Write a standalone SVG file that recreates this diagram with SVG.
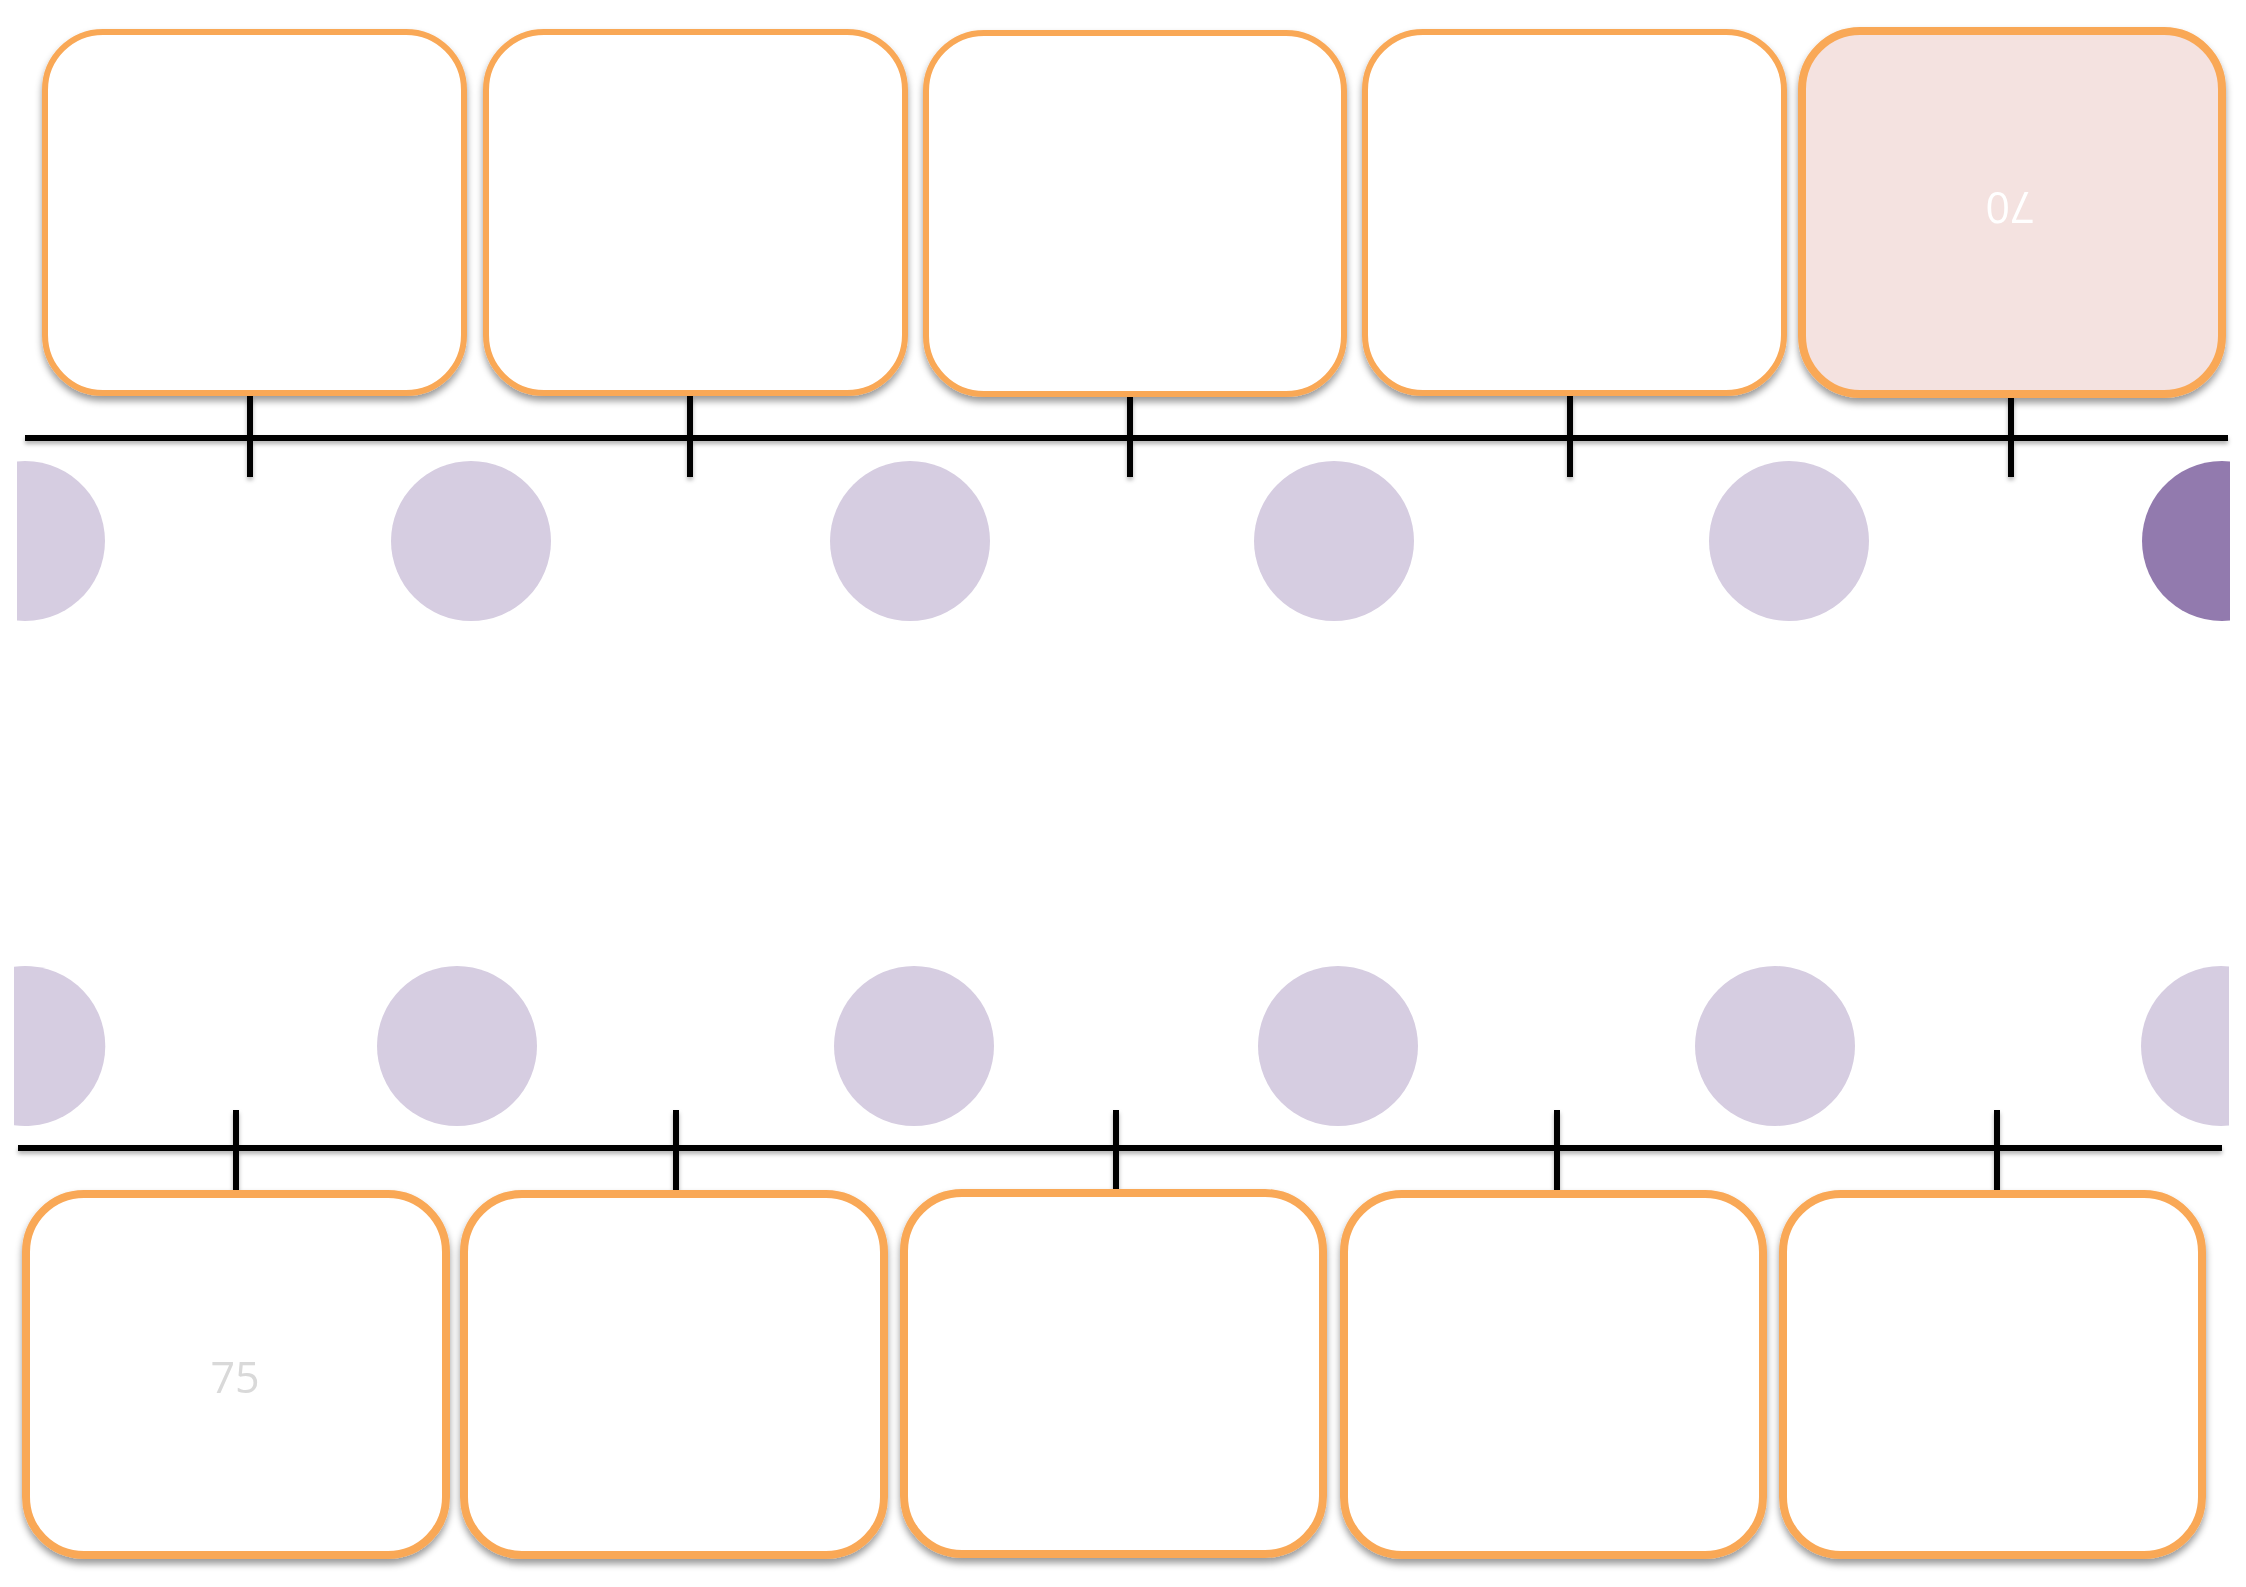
<svg xmlns="http://www.w3.org/2000/svg" width="2246" height="1587" viewBox="0 0 2246 1587">
<defs>
<filter id="sh" x="-10%" y="-10%" width="120%" height="125%">
<feDropShadow dx="0" dy="5" stdDeviation="3.5" flood-color="#000" flood-opacity="0.4"/>
</filter>
<filter id="lsh" x="-5%" y="-200%" width="110%" height="500%">
<feDropShadow dx="0" dy="3" stdDeviation="2" flood-color="#000" flood-opacity="0.3"/>
</filter>
</defs>
<style>
.box{fill:#fff;stroke:#F9A857;stroke-width:6}
.bb{stroke-width:8}
.hl{fill:#F4E2E0;stroke:#F9A857;stroke-width:8}
.dot{fill:#D6CDE1}
.dark{fill:#927AAE}
.ln{stroke:#000;stroke-width:6;fill:none}
.lbl{font-family:"Open Sans","Liberation Sans",sans-serif;font-size:43px;text-anchor:middle}
</style>
<rect width="2246" height="1587" fill="#fff"/>
<g id="connectors" filter="url(#lsh)">
<line class="ln" x1="25" y1="438" x2="2228" y2="438"/>
<line class="ln" x1="250" y1="396" x2="250" y2="477"/>
<line class="ln" x1="690" y1="396" x2="690" y2="477"/>
<line class="ln" x1="1130" y1="396" x2="1130" y2="477"/>
<line class="ln" x1="1570" y1="396" x2="1570" y2="477"/>
<line class="ln" x1="2011" y1="396" x2="2011" y2="477"/>
<line class="ln" x1="18" y1="1148" x2="2222" y2="1148"/>
<line class="ln" x1="236" y1="1110" x2="236" y2="1190"/>
<line class="ln" x1="676" y1="1110" x2="676" y2="1190"/>
<line class="ln" x1="1116" y1="1110" x2="1116" y2="1190"/>
<line class="ln" x1="1557" y1="1110" x2="1557" y2="1190"/>
<line class="ln" x1="1997" y1="1110" x2="1997" y2="1190"/>
</g>
<g id="top-boxes" filter="url(#sh)">
<g id="t1"><rect class="box" x="45" y="32" width="419" height="361" rx="58"/></g>
<g id="t2"><rect class="box" x="486" y="32" width="419" height="361" rx="58"/></g>
<g id="t3"><rect class="box" x="926" y="33" width="418" height="361" rx="58"/></g>
<g id="t4"><rect class="box" x="1365" y="32" width="419" height="361" rx="58"/></g>
<g id="t5"><rect class="hl" x="1802" y="31" width="420" height="363" rx="58"/>
<text class="lbl" fill="#fff" transform="translate(2010,192) rotate(180)">70</text></g>
</g>
<g id="bottom-boxes" filter="url(#sh)">
<g id="b1"><rect class="box bb" x="26" y="1194" width="420" height="361" rx="58"/>
<text class="lbl" fill="#D9D9D9" x="235" y="1393">75</text></g>
<g id="b2"><rect class="box bb" x="464" y="1194" width="420" height="361" rx="58"/></g>
<g id="b3"><rect class="box bb" x="904" y="1193" width="419" height="361" rx="58"/></g>
<g id="b4"><rect class="box bb" x="1344" y="1194" width="419" height="361" rx="58"/></g>
<g id="b5"><rect class="box bb" x="1783" y="1194" width="419" height="361" rx="58"/></g>
</g>
<g id="top-dots">
<path class="dot" d="M17,461.4 A80,80 0 1 1 17,620.6 Z"/>
<circle class="dot" cx="471" cy="541" r="80"/>
<circle class="dot" cx="910" cy="541" r="80"/>
<circle class="dot" cx="1334" cy="541" r="80"/>
<circle class="dot" cx="1789" cy="541" r="80"/>
<path class="dark" d="M2230,461.4 A80,80 0 1 0 2230,620.6 Z"/>
</g>
<g id="bottom-dots">
<path class="dot" d="M14,966.8 A80,80 0 1 1 14,1125.2 Z"/>
<circle class="dot" cx="457" cy="1046" r="80"/>
<circle class="dot" cx="914" cy="1046" r="80"/>
<circle class="dot" cx="1338" cy="1046" r="80"/>
<circle class="dot" cx="1775" cy="1046" r="80"/>
<path class="dot" d="M2229,966.4 A80,80 0 1 0 2229,1125.6 Z"/>
</g>
</svg>
